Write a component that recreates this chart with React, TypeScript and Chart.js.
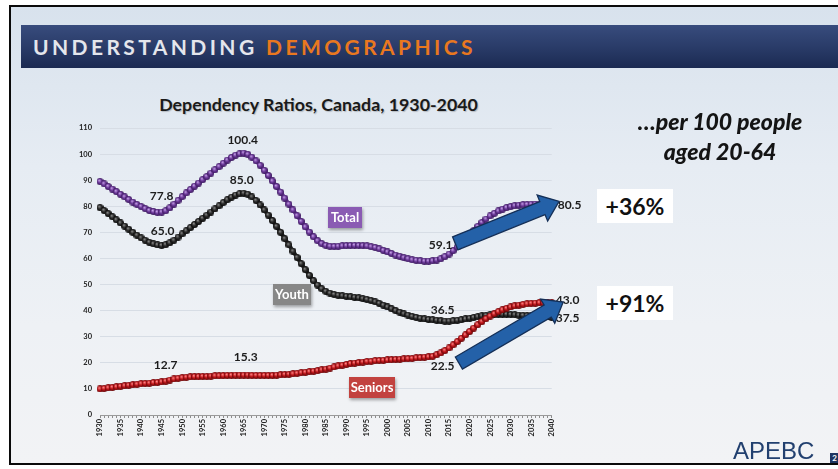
import React, { useEffect, useRef } from 'react';
import { Chart, registerables } from 'chart.js';

Chart.register(...registerables);

// ---------- DATA ----------
const years = Array.from({ length: 111 }, (_, i) => String(1930 + i));

const totalRatio = [
  89.5, 88.6, 87.6, 86.6, 85.6, 84.6, 83.6, 82.6, 81.6, 80.7,
  79.9, 79.1, 78.4, 78.0, 77.7, 77.8, 78.3, 79.4, 80.8, 82.3,
  83.7, 85.1, 86.4, 87.7, 88.9, 90.2, 91.4, 92.7, 94.0, 95.2,
  96.5, 97.7, 98.7, 99.6, 100.1, 100.4, 99.9, 98.8, 97.4, 95.7,
  93.8, 91.8, 89.7, 87.6, 85.4, 83.1, 80.8, 78.6, 76.4, 74.2,
  72.1, 70.1, 68.3, 66.8, 65.7, 65.0, 64.7, 64.6, 64.7, 64.8,
  64.9, 65.0, 65.0, 65.0, 64.9, 64.8, 64.5, 64.2, 63.7, 63.1,
  62.5, 61.9, 61.3, 60.8, 60.3, 59.9, 59.5, 59.3, 59.1, 59.0,
  59.0, 59.1, 59.4, 59.9, 60.7, 61.7, 63.0, 64.4, 65.9, 67.5,
  69.1, 70.7, 72.3, 73.8, 75.1, 76.3, 77.3, 78.2, 78.9, 79.5,
  79.9, 80.2, 80.4, 80.6, 80.7, 80.8, 80.8, 80.8, 80.7, 80.6,
  80.5,
];

const youthRatio = [
  79.5, 78.4, 77.2, 76.0, 74.8, 73.6, 72.4, 71.2, 70.0, 68.9,
  67.9, 67.0, 66.2, 65.6, 65.2, 65.0, 65.3, 66.0, 67.0, 68.2,
  69.4, 70.6, 71.8, 73.0, 74.2, 75.4, 76.6, 77.8, 79.0, 80.2,
  81.4, 82.5, 83.5, 84.3, 84.8, 85.0, 84.6, 83.6, 82.2, 80.5,
  78.6, 76.6, 74.5, 72.3, 70.0, 67.6, 65.2, 62.8, 60.4, 58.0,
  55.7, 53.5, 51.5, 49.8, 48.4, 47.4, 46.7, 46.2, 45.9, 45.7,
  45.5, 45.3, 45.1, 44.9, 44.6, 44.3, 43.9, 43.4, 42.8, 42.1,
  41.4, 40.7, 40.0, 39.4, 38.8, 38.3, 37.8, 37.4, 37.1, 36.8,
  36.6, 36.5, 36.3, 36.1, 36.0, 36.0, 36.1, 36.3, 36.5, 36.8,
  37.1, 37.4, 37.7, 38.0, 38.2, 38.4, 38.5, 38.6, 38.6, 38.6,
  38.5, 38.4, 38.3, 38.2, 38.1, 38.0, 37.9, 37.8, 37.7, 37.6,
  37.5,
];

const seniorsRatio = [
  10.0, 10.2, 10.4, 10.6, 10.8, 11.0, 11.2, 11.4, 11.6, 11.8,
  12.0, 12.1, 12.2, 12.4, 12.5, 12.7, 13.0, 13.4, 13.8, 14.1,
  14.3, 14.5, 14.6, 14.7, 14.7, 14.8, 14.8, 14.9, 15.0, 15.0,
  15.1, 15.2, 15.2, 15.3, 15.3, 15.3, 15.3, 15.2, 15.2, 15.2,
  15.2, 15.2, 15.2, 15.3, 15.4, 15.5, 15.6, 15.8, 16.0, 16.2,
  16.4, 16.6, 16.8, 17.0, 17.3, 17.6, 18.0, 18.4, 18.8, 19.1,
  19.4, 19.7, 19.9, 20.1, 20.3, 20.5, 20.6, 20.8, 20.9, 21.0,
  21.1, 21.2, 21.3, 21.4, 21.5, 21.6, 21.7, 21.9, 22.0, 22.2,
  22.3, 22.5, 23.1, 23.8, 24.7, 25.7, 26.9, 28.1, 29.4, 30.7,
  32.0, 33.3, 34.6, 35.8, 36.9, 37.9, 38.8, 39.6, 40.3, 40.9,
  41.4, 41.8, 42.1, 42.4, 42.6, 42.8, 42.9, 43.0, 43.0, 43.0,
  43.0,
];

const seriesNames = ['Total', 'Youth', 'Seniors'];

// labelled values: which series / year
const labelledPoints = [
  { series: 'Total', year: '1945', dx: 0, dy: -16, align: 'center' },
  { series: 'Total', year: '1965', dx: -1, dy: -13, align: 'center' },
  { series: 'Youth', year: '1945', dx: 1, dy: -14, align: 'center' },
  { series: 'Youth', year: '1965', dx: -2, dy: -13, align: 'center' },
  { series: 'Seniors', year: '1945', dx: 4, dy: -17, align: 'center' },
  { series: 'Seniors', year: '1965', dx: 2, dy: -18, align: 'center' },
  { series: 'Total', year: '2011', dx: 8, dy: -16, align: 'center' },
  { series: 'Youth', year: '2011', dx: 10, dy: -10, align: 'center' },
  { series: 'Seniors', year: '2011', dx: 10, dy: 10, align: 'center' },
  { series: 'Total', year: '2040', dx: 6, dy: 0, align: 'left' },
  { series: 'Seniors', year: '2040', dx: 4, dy: -3, align: 'left' },
  { series: 'Youth', year: '2040', dx: 4, dy: 1, align: 'left' },
];

// growth arrows (in data space: [year, ratio])
const growthArrows = [
  { from: [2016.5, 65.8], to: [2041.8, 81.9] },
  { from: [2017.4, 19.9], to: [2042.8, 43.3] },
];

const beadColors: Record<string, { base: string; light: string; dark: string }> = {
  Total: { base: '#6e3a9c', light: '#c9a6e8', dark: '#3a185c' },
  Youth: { base: '#2c2c2c', light: '#909090', dark: '#080808' },
  Seniors: { base: '#c3161b', light: '#ff9090', dark: '#640608' },
};

function makeBead(c: { base: string; light: string; dark: string }) {
  const s = 7;
  const cv = document.createElement('canvas');
  cv.width = s;
  cv.height = s;
  const g = cv.getContext('2d')!;
  const grad = g.createRadialGradient(2.6, 2.3, 0.2, 3.5, 3.5, 3.5);
  grad.addColorStop(0, c.light);
  grad.addColorStop(0.5, c.base);
  grad.addColorStop(1, c.dark);
  g.fillStyle = grad;
  g.beginPath();
  g.arc(3.5, 3.5, 3.5, 0, Math.PI * 2);
  g.fill();
  return cv;
}

const seriesData: Record<string, number[]> = {
  Total: totalRatio,
  Youth: youthRatio,
  Seniors: seniorsRatio,
};

const overlayPlugin = {
  id: 'overlayPlugin',
  afterDatasetsDraw(chart: any) {
    const ctx = chart.ctx as CanvasRenderingContext2D;
    const xs = chart.scales.x;
    const ys = chart.scales.y;
    const xAt = (year: number) => xs.getPixelForValue(year - 1930);
    ctx.save();
    // value labels
    ctx.font = 'bold 12px Lato';
    ctx.fillStyle = '#1c1c1c';
    ctx.textBaseline = 'middle';
    labelledPoints.forEach((l) => {
      const idx = years.indexOf(l.year);
      const v = seriesData[l.series][idx];
      const px = xs.getPixelForValue(idx);
      const py = ys.getPixelForValue(v);
      ctx.textAlign = l.align as CanvasTextAlign;
      ctx.fillText(v.toFixed(1), px + l.dx, py + l.dy);
    });
    // arrows
    growthArrows.forEach((a) => {
      const x0 = xAt(a.from[0]);
      const y0 = ys.getPixelForValue(a.from[1]);
      const x1 = xAt(a.to[0]);
      const y1 = ys.getPixelForValue(a.to[1]);
      const L = Math.hypot(x1 - x0, y1 - y0);
      const ang = Math.atan2(y1 - y0, x1 - x0);
      const w1 = 7, w2 = 14, h = 18;
      ctx.save();
      ctx.translate(x0, y0);
      ctx.rotate(ang);
      ctx.beginPath();
      ctx.moveTo(0, -w1);
      ctx.lineTo(L - h, -w1);
      ctx.lineTo(L - h, -w2);
      ctx.lineTo(L, 0);
      ctx.lineTo(L - h, w2);
      ctx.lineTo(L - h, w1);
      ctx.lineTo(0, w1);
      ctx.closePath();
      ctx.fillStyle = '#2461a8';
      ctx.fill();
      ctx.lineWidth = 1.3;
      ctx.strokeStyle = '#142f57';
      ctx.stroke();
      ctx.restore();
    });
    ctx.restore();
  },
};

function DependencyChart() {
  const ref = useRef<HTMLCanvasElement | null>(null);
  useEffect(() => {
    if (!ref.current) return;
    const beads: Record<string, HTMLCanvasElement> = {};
    seriesNames.forEach((n) => (beads[n] = makeBead(beadColors[n])));
    const order: Record<string, number> = { Seniors: 0, Youth: 1, Total: 2 };
    const chart = new Chart(ref.current, {
      type: 'line',
      data: {
        labels: years,
        datasets: seriesNames.map((n) => ({
          label: n,
          data: seriesData[n],
          order: order[n],
          borderColor: beadColors[n].base,
          borderWidth: 4,
          pointStyle: beads[n] as any,
          pointRadius: 3.5,
          pointBorderWidth: 0,
          tension: 0,
          fill: false,
        })),
      },
      options: {
        animation: false,
        responsive: false,
        devicePixelRatio: 1,
        layout: { padding: { left: 70, right: 286.3, top: 128, bottom: 24 } },
        plugins: {
          legend: { display: false },
          tooltip: { enabled: false },
        },
        scales: {
          x: {
            type: 'category',
            grid: {
              display: true,
              drawOnChartArea: false,
              drawTicks: true,
              tickLength: 3,
              color: '#8c8c8c',
            },
            border: { display: true, color: '#9a9a9a' },
            ticks: {
              autoSkip: false,
              minRotation: 90,
              maxRotation: 90,
              padding: 1,
              color: '#222',
              font: { family: 'Lato', size: 7.5, weight: 'bold' },
              callback: (_v: any, i: number) =>
                Number(years[i]) % 5 === 0 ? years[i] : '',
            },
            afterFit: (s: any) => {
              s.height = 30;
            },
          },
          y: {
            min: 0,
            max: 110,
            grid: { color: '#d7dde5', drawTicks: false },
            border: { display: false },
            ticks: {
              stepSize: 10,
              padding: 8,
              color: '#222',
              font: { family: 'Lato', size: 7.5, weight: 'bold' },
            },
            afterFit: (s: any) => {
              s.width = 30;
            },
          },
        },
      } as any,
      plugins: [overlayPlugin],
    });
    return () => chart.destroy();
  }, []);
  return (
    <canvas
      ref={ref}
      width={838}
      height={469}
      style={{ position: 'absolute', left: 0, top: 0, width: 838, height: 469 }}
    />
  );
}

const calloutBase: React.CSSProperties = {
  position: 'absolute',
  color: '#fff',
  fontFamily: 'Lato, sans-serif',
  fontWeight: 700,
  fontSize: 13,
  lineHeight: '21px',
  textAlign: 'center',
  boxShadow: '1px 2px 3px rgba(0,0,0,0.35)',
};

const pctBox: React.CSSProperties = {
  position: 'absolute',
  left: 597,
  width: 76,
  height: 34,
  background: '#fff',
  color: '#111',
  fontFamily: 'Lato, sans-serif',
  fontWeight: 700,
  fontSize: 23,
  lineHeight: '34px',
  textAlign: 'center',
};

export default function App() {
  return (
    <div
      style={{
        position: 'fixed',
        left: 0,
        top: 0,
        width: 838,
        height: 469,
        overflow: 'hidden',
        background: '#fff',
      }}
    >
      <div
        style={{
          position: 'absolute',
          left: 9,
          top: 5,
          width: 860,
          height: 460,
          boxSizing: 'border-box',
          border: '2px solid #0a0a0a',
          background: 'linear-gradient(180deg, #d8e2ed 0%, #e6ecf3 35%, #eef1f5 70%, #f2f3f5 100%)',
        }}
      />
      <div
        style={{
          position: 'absolute',
          left: 21,
          top: 25,
          width: 840,
          height: 43,
          background: 'linear-gradient(180deg, #384c7d 0%, #2a3c69 50%, #1b2a52 100%)',
        }}
      />
      <div
        style={{
          position: 'absolute',
          left: 33,
          top: 25,
          height: 43,
          lineHeight: '44px',
          fontFamily: 'Lato, sans-serif',
          fontWeight: 700,
          fontSize: 21,
          letterSpacing: 3.4,
          color: '#e4e6ec',
          whiteSpace: 'nowrap',
        }}
      >
        UNDERSTANDING <span style={{ color: '#e9781f' }}>DEMOGRAPHICS</span>
      </div>
      <div
        style={{
          position: 'absolute',
          left: 0,
          top: 93,
          width: 637,
          textAlign: 'center',
          fontFamily: 'Lato, sans-serif',
          fontWeight: 700,
          fontSize: 17.8,
          color: '#1a1a1a',
          textShadow: '1px 1px 1px rgba(0,0,0,0.2)',
          whiteSpace: 'nowrap',
        }}
      >
        Dependency Ratios, Canada, 1930-2040
      </div>
      <DependencyChart />
      <div style={{ ...calloutBase, left: 328, top: 207, width: 34, height: 21, background: '#8a5bb3' }}>Total</div>
      <div style={{ ...calloutBase, left: 273, top: 284, width: 38, height: 21, background: '#878787' }}>Youth</div>
      <div style={{ ...calloutBase, left: 349, top: 377, width: 46, height: 21, background: '#c2423f' }}>Seniors</div>
      <div
        style={{
          position: 'absolute',
          left: 600,
          top: 106,
          width: 240,
          textAlign: 'center',
          fontFamily: 'Lato, sans-serif',
          fontWeight: 900,
          fontStyle: 'italic',
          fontSize: 23,
          lineHeight: '30px',
          color: '#141414',
        }}
      >
        …per 100 people
        <br />
        aged 20-64
      </div>
      <div style={{ ...pctBox, top: 189 }}>+36%</div>
      <div style={{ ...pctBox, top: 286 }}>+91%</div>
      <div
        style={{
          position: 'absolute',
          left: 733,
          top: 437,
          fontFamily: '"Liberation Sans", Arial, sans-serif',
          fontSize: 24,
          color: '#22406f',
          letterSpacing: 0,
        }}
      >
        APEBC
      </div>
      <div
        style={{
          position: 'absolute',
          left: 830,
          top: 453,
          width: 9,
          height: 10,
          background: '#1f3560',
          color: '#fff',
          fontFamily: 'Lato, sans-serif',
          fontWeight: 700,
          fontSize: 8,
          lineHeight: '10px',
          textAlign: 'center',
        }}
      >
        2
      </div>
    </div>
  );
}
